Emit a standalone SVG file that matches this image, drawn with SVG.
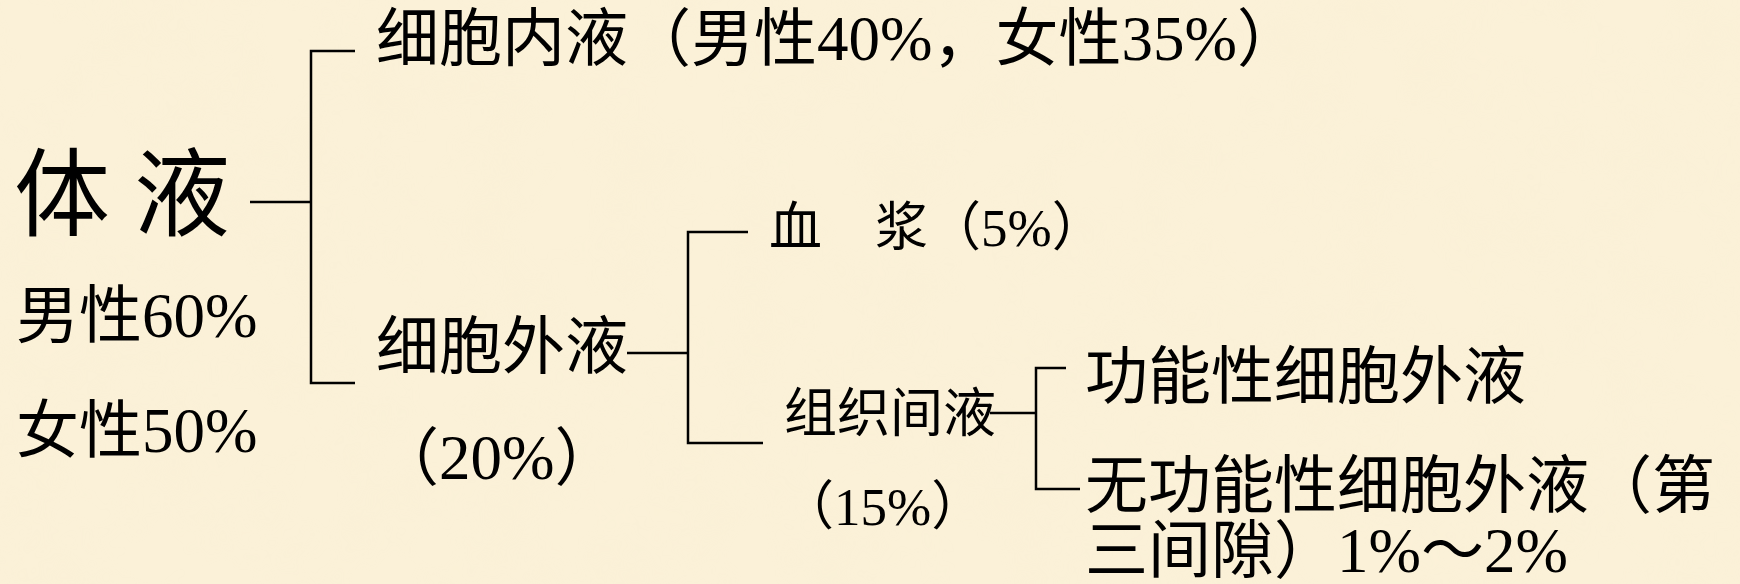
<svg xmlns="http://www.w3.org/2000/svg" width="1740" height="584" viewBox="0 0 1740 584">
<defs>
<style>
.t{font-family:"Liberation Serif","Noto Sans CJK SC",serif;fill:#000;}
.big{font-size:96px;}
.m{font-size:63px;}
.s{font-size:53px;}
.c{fill:none;stroke:#000;stroke-width:2.5;}
</style>
<filter id="tex" x="0" y="0" width="100%" height="100%">
<feTurbulence type="fractalNoise" baseFrequency="0.015" numOctaves="3" seed="4" result="n"/>
<feColorMatrix type="matrix" values="0 0 0 0 0.93  0 0 0 0 0.84  0 0 0 0 0.64  0 0 0 0.9 -0.35"/>
</filter>
</defs>
<rect width="1740" height="584" fill="#FBF1D8"/>
<rect width="1740" height="584" filter="url(#tex)" opacity="0.35"/>
<g id="connectors">
<path class="c" d="M250,202 H311 M355,51 H311 V383 H355"/>
<path class="c" d="M627,353 H688 M748,232 H688 V443 H763"/>
<path class="c" d="M990,413 H1036 M1066,368 H1036 V489 H1080"/>
</g>
<g id="n-tiye"><text class="t big" x="14" y="228">体 液</text></g>
<g id="n-male"><text class="t m" x="16" y="337">男性60%</text></g>
<g id="n-female"><text class="t m" x="16" y="452">女性50%</text></g>
<g id="n-intra"><text class="t m" x="376" y="60">细胞内液（男性40%，女性35%）</text></g>
<g id="n-extra"><text class="t m" x="376" y="368">细胞外液</text><text class="t m" x="376" y="479">（20%）</text></g>
<g id="n-plasma"><text class="t s" x="769" y="246">血　浆（5%）</text></g>
<g id="n-inter"><text class="t s" x="784" y="432">组织间液</text><text class="t s" x="781" y="525">（15%）</text></g>
<g id="n-func"><text class="t m" x="1085" y="398">功能性细胞外液</text></g>
<g id="n-nonfunc"><text class="t m" x="1085" y="507">无功能性细胞外液（第</text><text class="t m" x="1085" y="572">三间隙）1%～2%</text></g>
</svg>
